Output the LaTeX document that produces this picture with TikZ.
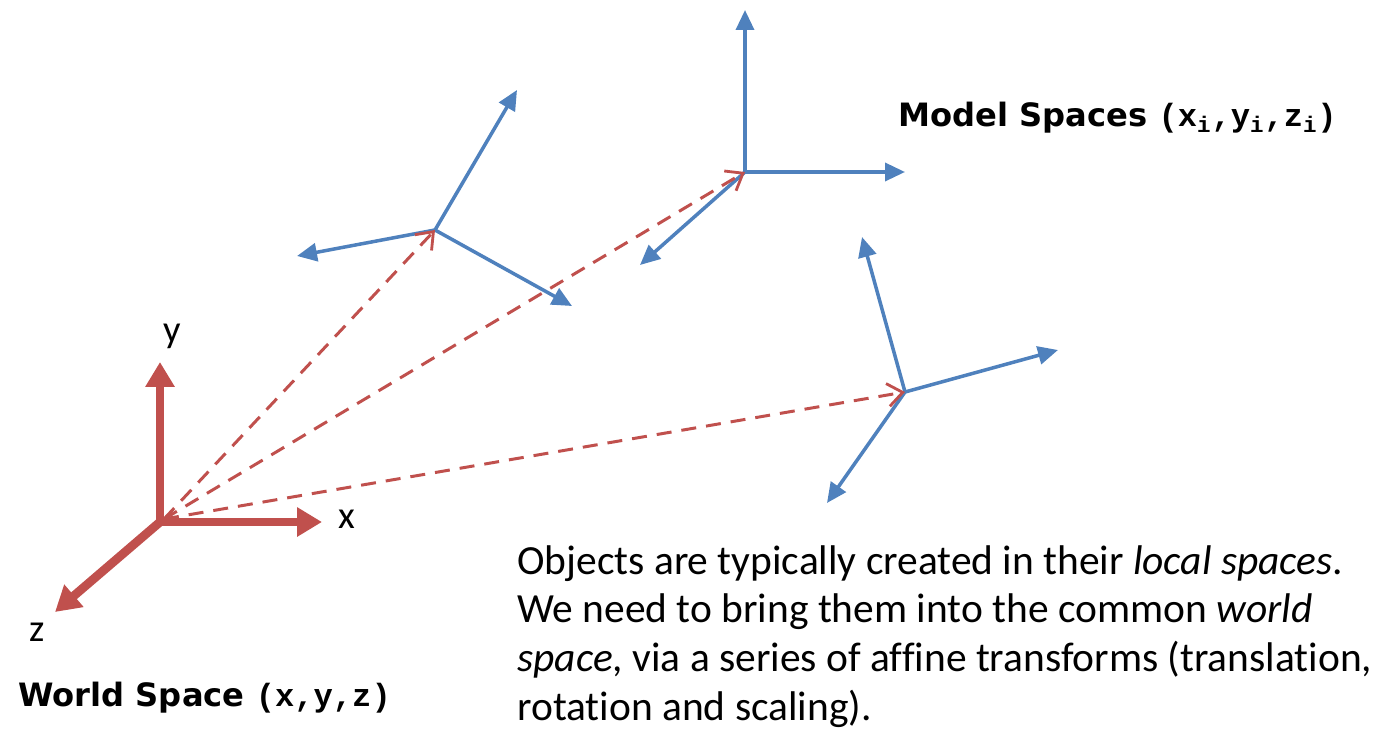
\documentclass[tikz,border=0pt]{standalone}
\usepackage{fontspec}
\setmainfont{Carlito}[Ligatures=NoCommon]
\newfontfamily\labelfont{DejaVu Sans}
\newfontfamily\coordfont{Liberation Mono}
\usetikzlibrary{arrows.meta}
\definecolor{worldred}{HTML}{C0504D}
\definecolor{modelblue}{HTML}{4F81BD}
\tikzset{
  worldaxis/.style = {draw=worldred, line width=5pt,
                      -{Triangle[length=5mm, width=5.6mm]}},
  modelaxis/.style = {draw=modelblue, line width=2pt,
                      -{Triangle[length=4mm, width=3.6mm]}},
  transform/.style = {draw=worldred, line width=1.7pt, dash pattern=on 3mm off 2mm,
                      -{Straight Barb[length=3mm, width=4.6mm, line width=1.6pt]}},
  axislabel/.style = {font=\fontsize{22}{24}\selectfont, inner sep=0pt},
  spacelabel/.style = {font=\fontsize{18.3}{20}\selectfont\labelfont\bfseries,
                       inner sep=0pt, anchor=base west},
  notetext/.style  = {font=\fontsize{23.6}{27.8}\selectfont, align=left,
                      inner sep=0pt, anchor=north west}
}
\begin{document}
\begin{tikzpicture}[x=0.02cm, y=-0.02cm]
    \useasboundingbox (0,0) rectangle (1386,736);

    % world frame
    \coordinate (world) at (160,522);
    \coordinate (worldx) at (322,522);
    \coordinate (worldy) at (160,362);
    \coordinate (worldz) at (55,612);

    % model frames
    \coordinate (modelA) at (435,230);
    \coordinate (modelAx) at (572,306);
    \coordinate (modelAy) at (517,90);
    \coordinate (modelAz) at (297,256);

    \coordinate (modelB) at (745,172);
    \coordinate (modelBx) at (905,172);
    \coordinate (modelBy) at (745,10);
    \coordinate (modelBz) at (640,265);

    \coordinate (modelC) at (905,392);
    \coordinate (modelCx) at (1058,350);
    \coordinate (modelCy) at (862,237);
    \coordinate (modelCz) at (827,503);

    \draw[modelaxis] (modelA) -- (modelAx);
    \draw[modelaxis] (modelA) -- (modelAy);
    \draw[modelaxis] (modelA) -- (modelAz);
    \draw[modelaxis] (modelB) -- (modelBx);
    \draw[modelaxis] (modelB) -- (modelBy);
    \draw[modelaxis] (modelB) -- (modelBz);
    \draw[modelaxis] (modelC) -- (modelCx);
    \draw[modelaxis] (modelC) -- (modelCy);
    \draw[modelaxis] (modelC) -- (modelCz);

    \draw[transform] ([shift={(4,-3)}]world) -- (modelA);
    \draw[transform] ([shift={(4,-3)}]world) -- (modelB);
    \draw[transform] ([shift={(4,-3)}]world) -- (modelC);

    \draw[worldaxis] (world) -- (worldx);
    \draw[worldaxis] (world) -- (worldy);
    \draw[worldaxis] (world) -- (worldz);

    \node[axislabel] (labelx) at (347,519) {x};
    \node[axislabel] (labely) at (172,336) {y};
    \node[axislabel] (labelz) at (37,632) {z};

    \node[spacelabel] (worldname) at (18,706)
        {World Space {\coordfont(x,y,z)}};
    \node[spacelabel] (modelname) at (898,127)
        {Model Spaces {\coordfont(x\textsubscript{i},y\textsubscript{i},z\textsubscript{i})}};

    \node[notetext] (note) at (517,545)
        {Objects are typically created in their \textit{local spaces}.\\
         We need to bring them into the common \textit{world}\\
         \textit{space}, via a series of affine transforms (translation,\\
         rotation and scaling).};
\end{tikzpicture}
\end{document}
